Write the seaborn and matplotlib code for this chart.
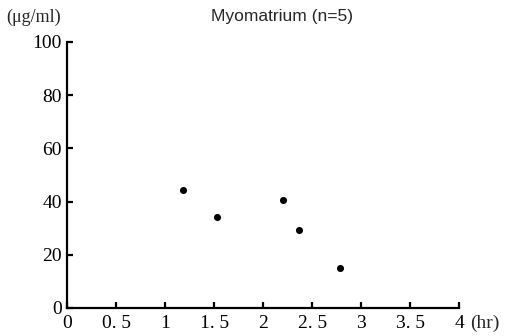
import matplotlib
matplotlib.use("Agg")
import matplotlib.pyplot as plt
import seaborn as sns
import pandas as pd

hours = [1.18, 1.53, 2.20, 2.36, 2.78]
conc = [44.2, 34.1, 40.5, 29.3, 14.9]
xticks = [0, 0.5, 1, 1.5, 2, 2.5, 3, 3.5, 4]
xticklabels = ["0", "0. 5", "1", "1. 5", "2", "2. 5", "3", "3. 5", "4"]
yticks = [0, 20, 40, 60, 80, 100]

sns.set_style("white")
plt.rcParams['font.family'] = ['Liberation Serif', 'DejaVu Serif']

df = pd.DataFrame({"hr": hours, "conc": conc})

fig = plt.figure(figsize=(5.11, 3.36), dpi=100)
ax = fig.add_axes([67.3/511, 1-308/336, (459.3-67.3)/511, (308-42)/336])
sns.scatterplot(data=df, x="hr", y="conc", ax=ax, color="black", s=26,
                edgecolor="black", linewidth=0, legend=False, clip_on=False)
ax.set_xlim(0, 4)
ax.set_ylim(0, 100)
ax.set_xticks(xticks)
ax.set_xticklabels(xticklabels)
ax.set_yticks(yticks)
ax.set_xlabel("")
ax.set_ylabel("")
for s in ["top", "right"]:
    ax.spines[s].set_visible(False)
for s in ["left", "bottom"]:
    ax.spines[s].set_linewidth(1.6)
    ax.spines[s].set_color("black")
ax.tick_params(bottom=True, left=True, direction="in", length=4, width=1.6,
               colors="black", labelsize=14)
ax.tick_params(axis="x", pad=5)
ax.tick_params(axis="y", pad=4)
fig.text(6/511, 1-17/336, "(\u03bcg/ml)", fontsize=13, ha="left", va="center",
         family=["Liberation Serif"])
fig.text(470/511, 1-323/336, "(hr)", fontsize=14, ha="left", va="center",
         family=["Liberation Serif"])
fig.text(282/511, 1-16/336, "Myomatrium (n=5)", fontsize=12.5, ha="center",
         va="center", family=["Liberation Sans"])
fig.savefig("out.png", dpi=100)
